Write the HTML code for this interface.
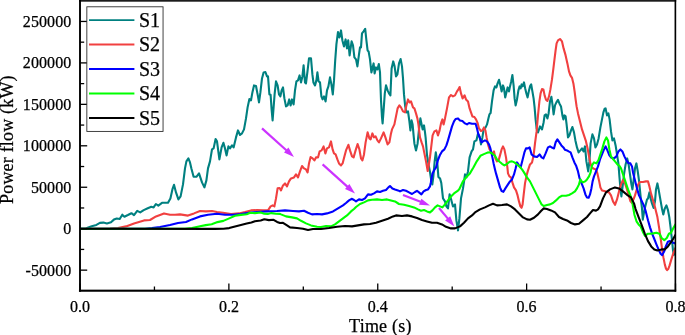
<!DOCTYPE html>
<html><head><meta charset="utf-8"><title>Power flow</title>
<style>
html,body{margin:0;padding:0;background:#fff;}
body{width:685px;height:335px;overflow:hidden;}
svg{display:block;}
text{font-variant-ligatures:none;stroke:#000;stroke-width:0.25px;font-family:"Liberation Serif",serif;fill:#000;}
.c{fill:none;stroke-width:2.1;stroke-linejoin:round;stroke-linecap:round;}
.ax{stroke:#000;stroke-width:2;fill:none;stroke-linecap:square;}
.tk{stroke:#000;stroke-width:1.3;}
.ar{stroke:#cc33ff;stroke-width:2.2;fill:none;}
.ah{fill:#cc33ff;stroke:none;}
</style></head><body>
<svg width="685" height="335" viewBox="0 0 685 335">
<rect x="0" y="0" width="685" height="335" fill="#fff"/>
<defs><clipPath id="cp"><rect x="80" y="0" width="595.5" height="290.3"/></clipPath></defs>

<g clip-path="url(#cp)"><g transform="translate(0,0.4)">
<polyline class="c" stroke="#008080" points="80.0,228.4 86.0,228.2 87.6,227.3 91.7,225.8 96.4,224.5 99.9,222.5 103.4,222.2 106.9,223.0 111.0,221.8 113.9,219.2 116.8,218.1 119.7,218.6 122.3,214.3 124.4,216.3 127.9,214.6 131.4,212.8 134.0,214.8 137.2,210.5 140.2,212.0 143.7,209.7 147.2,208.1 151.3,206.4 153.6,207.0 155.9,203.6 158.3,205.2 162.0,202.4 165.0,202.4 168.0,202.4 170.4,198.0 172.4,189.0 174.0,184.4 176.0,192.0 178.4,199.0 180.6,196.0 183.0,184.0 185.0,168.0 186.4,161.0 188.4,158.0 190.0,162.0 191.4,168.0 193.6,176.4 196.4,176.4 199.0,173.0 202.0,182.0 204.4,187.0 206.4,180.0 208.0,168.0 210.0,161.0 212.0,149.0 213.6,148.0 215.6,138.6 217.0,141.0 219.4,159.0 221.6,147.0 223.4,142.4 225.0,148.0 226.6,155.0 228.4,146.0 230.0,148.0 232.0,145.0 233.6,147.0 236.0,137.0 238.0,130.0 240.0,134.6 242.0,133.0 244.0,129.0 246.0,118.0 247.6,107.0 249.4,98.6 251.0,100.0 252.4,92.0 254.0,85.0 256.0,85.6 257.6,94.0 259.0,102.0 260.4,92.0 262.0,78.0 263.6,72.0 265.4,71.6 267.0,76.0 268.0,76.0 269.4,94.0 270.6,94.4 271.6,109.0 272.6,120.0 273.6,107.0 274.6,94.0 276.0,81.0 277.6,85.0 279.0,94.0 280.4,96.0 281.6,90.0 283.0,87.0 284.4,98.0 286.0,106.0 287.6,105.0 289.2,99.0 290.6,105.0 292.0,99.0 293.6,104.0 295.0,90.0 296.4,81.0 298.0,80.0 299.6,75.0 301.0,82.0 302.4,76.0 303.6,65.0 305.0,82.0 306.0,83.0 307.6,70.0 309.0,58.0 311.0,58.0 312.4,74.0 313.4,82.0 315.0,85.0 316.4,80.0 317.4,72.0 318.6,81.0 320.0,82.0 321.4,96.0 322.6,99.0 324.0,96.0 325.6,101.0 327.0,90.0 328.4,86.0 330.0,77.0 331.4,84.0 332.8,94.0 334.0,80.0 335.2,60.0 336.4,44.0 338.0,31.6 339.4,37.0 341.0,30.0 342.4,40.0 344.0,46.0 345.6,39.0 347.0,48.0 348.2,40.0 349.6,55.0 351.6,41.0 353.0,45.0 354.4,57.0 356.0,59.0 357.4,66.0 359.0,54.0 360.0,47.0 361.0,47.0 362.0,33.0 363.6,31.0 365.2,28.4 366.4,40.0 367.6,50.0 368.6,51.0 370.0,59.0 371.4,72.0 372.6,67.0 373.6,63.0 374.6,73.0 376.0,67.0 377.4,69.0 378.8,63.6 380.0,72.0 381.0,100.0 382.0,117.0 382.6,123.0 383.6,110.0 384.8,93.0 386.0,85.0 387.6,90.0 389.0,93.0 390.4,95.0 391.6,68.0 393.2,61.0 394.6,66.0 396.0,76.0 397.4,74.0 399.0,63.0 400.6,58.6 402.0,66.0 403.0,78.0 404.0,94.0 405.2,106.0 406.4,112.0 408.0,111.0 409.4,121.0 410.4,130.0 411.6,120.0 412.6,124.0 413.6,135.0 414.4,143.0 416.0,150.0 417.6,143.0 419.0,129.0 420.4,118.0 421.6,124.0 422.6,129.0 424.0,125.0 425.0,132.0 425.6,137.0 427.0,154.6 428.6,164.6 430.0,171.6 431.2,179.6 432.3,184.1 433.4,175.6 434.6,161.6 435.8,151.9 437.2,161.3 438.4,176.5 440.1,178.2 441.3,182.6 443.0,198.0 445.0,201.0 446.4,206.0 448.0,208.0 449.6,194.0 451.4,200.0 453.0,206.0 455.0,204.0 456.4,220.0 458.0,230.0 459.4,218.0 461.0,198.0 463.0,188.0 464.2,180.0 465.0,174.0 466.4,177.0 468.0,171.0 469.6,157.0 471.6,151.0 473.0,149.0 474.4,141.0 476.4,140.0 478.0,133.0 479.6,136.0 481.0,144.0 482.4,137.0 483.6,129.0 485.6,127.0 487.0,124.0 488.4,118.0 489.4,114.0 490.6,112.6 492.0,101.0 493.6,90.0 495.0,86.0 496.4,87.0 497.6,83.0 499.0,79.4 500.4,85.0 501.6,91.0 503.0,85.0 504.0,88.0 505.2,97.0 506.4,92.0 507.6,87.0 509.0,91.0 510.0,86.0 511.2,81.0 512.4,74.6 513.6,85.0 514.6,98.0 515.6,105.0 517.0,99.0 518.4,90.0 519.6,86.0 520.6,88.0 521.6,84.0 522.6,86.0 524.0,82.0 525.2,88.0 526.4,93.0 527.6,97.0 529.0,90.0 530.0,86.0 531.2,84.0 532.4,91.0 533.6,98.0 534.6,107.0 535.6,119.0 536.6,128.0 538.0,132.0 540.0,126.0 542.0,129.0 543.6,122.0 544.6,115.0 546.0,114.0 547.4,118.0 548.6,113.0 550.0,101.0 551.4,96.4 552.6,105.0 553.6,114.0 555.0,105.0 556.4,102.0 558.0,99.4 559.4,103.0 561.0,106.0 562.4,115.0 563.4,119.0 564.4,115.0 565.6,116.0 566.6,124.0 568.0,137.0 569.4,135.0 571.0,130.0 572.4,126.6 574.0,132.0 575.4,140.0 577.0,147.0 578.6,152.0 580.4,150.0 582.0,148.0 583.6,151.0 585.0,146.0 586.4,161.0 588.2,171.0 589.4,161.0 590.6,143.0 592.4,134.0 594.0,138.0 595.4,147.0 597.0,144.0 598.6,138.0 600.4,127.0 602.0,119.0 603.4,112.0 604.6,108.4 605.6,108.0 607.0,115.0 608.4,113.0 609.6,119.0 611.0,131.0 612.4,140.0 614.0,138.0 615.6,145.0 617.0,154.0 618.4,163.0 619.4,176.0 620.6,190.0 621.4,196.0 622.6,186.0 624.0,174.0 625.6,164.0 627.2,158.0 628.6,164.0 630.0,174.0 631.4,184.0 632.4,189.0 633.6,180.0 635.0,168.0 636.4,163.0 637.6,170.0 639.0,180.0 640.0,190.0 641.0,200.0 642.0,208.0 642.8,219.2 644.0,212.0 645.5,205.0 647.0,199.0 648.0,198.0 649.4,192.0 650.6,198.0 652.0,203.0 653.6,207.6 655.0,201.0 656.0,189.0 657.4,183.0 658.6,189.0 660.0,197.0 661.4,205.0 662.0,208.4 663.3,214.0 664.7,208.4 666.4,205.0 667.9,209.4 669.3,216.7 670.6,227.2 672.0,239.7 673.0,250.0 673.8,254.5 674.6,252.0 675.4,248.0"/>
<polyline class="c" stroke="#f14040" points="80.0,228.4 110.0,228.2 118.0,227.6 126.0,226.0 134.0,223.0 144.0,220.0 150.0,219.6 156.0,216.0 164.0,213.0 170.0,214.4 175.0,214.4 180.0,214.0 188.0,215.2 194.0,213.0 200.0,210.6 206.0,211.0 212.0,210.6 217.0,211.6 223.0,212.4 231.0,213.6 239.0,213.0 245.0,211.6 251.0,210.0 257.0,209.6 263.0,210.0 268.0,210.0 270.6,206.0 272.6,205.0 274.4,206.0 276.0,198.0 277.6,188.0 279.6,187.6 281.0,190.0 283.0,185.0 285.0,183.0 287.0,186.0 289.0,181.0 291.0,178.0 294.0,177.0 296.0,174.0 298.0,177.0 300.0,171.0 302.0,165.6 304.0,168.0 306.0,169.0 307.6,172.0 309.0,163.0 310.6,156.6 312.6,158.0 314.4,160.0 316.0,157.0 318.0,157.0 319.6,151.0 321.6,150.0 323.6,146.0 325.4,153.0 327.0,148.0 329.0,147.0 331.0,141.0 332.6,149.0 334.0,153.0 335.6,154.0 337.4,159.0 339.0,163.0 341.0,165.0 342.6,163.0 344.4,156.0 346.0,150.0 348.4,144.4 350.0,150.0 352.0,156.0 353.6,157.0 355.6,150.0 357.6,143.6 359.4,149.0 361.0,158.0 362.4,160.0 364.0,154.0 365.6,142.0 367.6,132.0 369.4,138.0 370.6,139.0 372.4,133.0 374.0,137.0 375.6,136.0 377.4,140.0 379.0,142.0 381.0,138.0 383.6,132.0 385.4,137.0 387.6,144.0 389.4,142.0 391.0,133.0 392.0,129.0 394.4,124.0 396.0,116.0 397.6,108.0 399.4,105.0 401.0,107.0 403.0,111.0 405.0,112.0 406.4,105.0 408.0,99.0 409.6,102.0 411.0,101.0 413.0,107.0 414.4,108.0 416.0,113.0 417.4,118.0 418.4,124.0 420.0,137.0 421.6,142.0 423.0,146.0 424.4,153.0 426.0,161.0 427.0,166.6 427.7,170.6 428.6,165.6 430.0,156.6 431.4,145.0 432.6,135.0 434.4,131.0 436.4,130.0 438.0,135.0 439.6,130.0 441.0,123.0 442.4,119.0 443.6,124.0 445.0,118.0 447.0,108.0 449.0,97.0 451.0,94.6 453.0,96.0 455.0,95.0 457.0,91.0 458.4,89.0 459.6,86.6 461.0,93.0 462.6,98.0 464.6,95.0 466.0,99.0 468.0,101.0 469.6,108.0 471.0,112.0 472.4,116.0 474.4,116.6 476.0,119.0 477.6,122.6 479.0,128.0 481.0,130.6 482.4,130.0 484.0,127.0 485.4,130.0 486.6,137.0 488.0,144.0 489.6,149.0 491.0,151.0 492.6,154.0 494.0,151.0 495.4,158.0 497.0,161.0 498.6,160.0 500.0,155.0 501.6,149.0 503.0,146.0 504.4,149.0 506.0,157.0 507.4,167.0 508.0,173.0 509.4,176.0 511.0,177.0 512.4,182.0 514.0,187.0 516.0,190.0 517.6,195.0 519.0,201.0 520.4,206.0 521.6,207.4 522.6,204.0 523.6,195.0 525.0,183.0 526.6,175.0 528.0,170.0 530.0,164.0 532.0,162.0 533.6,155.0 535.0,143.0 536.6,131.0 538.0,115.0 539.4,101.0 540.6,93.0 542.0,88.6 543.4,89.0 544.6,95.0 546.0,99.4 547.4,100.6 549.0,96.0 550.4,89.0 552.0,79.0 553.4,68.0 554.6,58.0 555.6,50.0 556.6,43.0 558.0,40.0 560.0,38.6 562.0,41.0 563.6,48.0 565.6,55.0 567.4,63.0 569.0,71.0 570.4,75.0 572.0,77.4 573.4,83.0 574.6,91.0 575.6,99.0 576.6,106.0 578.0,113.0 580.0,121.0 582.0,129.0 584.0,135.0 586.0,141.0 587.6,148.0 589.0,156.0 590.4,163.0 592.0,167.4 594.0,168.4 596.0,169.0 597.4,173.0 599.0,180.0 600.4,187.0 602.0,190.0 604.4,190.6 607.0,191.6 609.0,192.0 611.0,195.0 613.0,201.0 615.0,204.4 617.0,199.0 619.0,191.0 621.0,184.0 623.0,179.6 625.0,183.0 627.0,189.0 629.0,196.0 630.5,201.0 631.8,202.4 633.5,199.0 635.0,195.0 636.5,190.0 638.0,184.6 639.5,181.8 641.0,181.6 643.0,181.6 646.0,181.0 648.0,181.0 649.4,186.0 651.0,193.0 653.0,200.0 655.3,208.0 657.4,216.7 659.1,227.2 660.6,237.6 662.0,248.0 663.5,257.5 664.8,264.0 666.0,268.2 667.1,269.7 668.3,268.6 669.6,265.0 671.2,259.5 673.1,253.5 675.4,248.0"/>
<polyline class="c" stroke="#0000ff" points="80.0,228.4 145.0,228.3 152.0,227.6 160.0,226.6 170.0,224.6 178.0,222.6 186.0,221.6 192.0,219.0 200.0,216.0 208.0,214.4 217.0,213.4 225.0,214.4 233.0,214.4 241.0,213.6 249.0,212.4 257.0,211.6 267.0,211.0 277.0,210.6 285.0,210.0 293.0,210.6 299.0,211.0 304.0,210.4 308.0,212.4 312.0,214.0 317.0,213.6 322.0,214.0 327.0,213.0 333.0,211.0 338.0,208.0 343.0,205.0 346.0,202.6 349.0,200.0 352.0,198.4 354.0,199.6 356.0,201.0 359.0,199.0 362.0,199.6 365.0,198.0 368.0,194.0 371.0,194.4 374.0,193.0 377.0,191.0 380.0,191.6 383.0,190.4 386.0,189.6 388.4,187.0 390.0,185.6 392.4,188.0 395.0,189.0 398.0,190.0 400.0,191.0 403.0,189.6 406.0,190.4 409.0,192.0 412.0,193.6 415.0,191.6 417.0,190.4 419.0,192.0 421.4,194.0 423.6,191.0 426.0,189.6 428.0,189.0 430.0,186.0 430.8,182.3 432.5,173.0 434.3,169.6 436.0,167.1 437.8,160.1 440.1,154.3 442.0,151.0 444.4,149.0 446.4,145.0 448.0,140.0 450.0,133.0 452.0,126.0 454.0,121.0 455.6,118.6 458.0,118.0 460.0,120.0 462.4,120.6 465.0,123.0 467.0,124.0 469.0,122.6 472.0,123.4 475.6,123.4 477.0,128.0 478.4,134.0 480.0,138.0 481.6,142.0 483.0,141.0 485.0,140.0 487.0,141.0 489.0,144.0 490.4,148.0 492.0,155.0 493.6,163.0 495.0,169.0 496.0,173.0 498.0,180.0 500.0,187.0 501.6,190.6 503.4,191.4 505.4,188.0 508.0,184.0 510.0,181.0 512.0,179.0 514.0,174.0 515.6,168.0 517.0,162.0 519.0,165.0 520.6,167.0 522.4,160.0 524.4,152.0 526.0,148.0 528.0,148.0 529.6,147.0 531.6,154.0 534.0,156.0 537.0,156.6 539.6,154.0 541.6,157.0 543.4,158.0 545.6,153.0 548.0,147.0 550.0,146.0 552.4,147.4 554.0,148.0 555.6,142.0 557.4,139.0 559.4,142.0 561.4,145.0 563.4,147.0 565.0,149.4 567.0,150.0 568.6,151.0 570.6,152.0 572.4,157.0 574.4,162.0 576.0,165.0 577.0,168.0 578.0,171.0 579.6,178.0 581.6,183.0 583.6,188.0 585.4,194.0 587.0,197.0 588.6,197.4 590.0,194.0 591.4,188.0 592.6,181.0 594.0,176.0 596.0,171.0 598.0,166.0 600.0,159.0 602.0,154.0 604.0,149.0 605.6,146.0 607.4,150.0 609.4,155.0 611.4,157.4 614.0,158.0 616.4,156.0 618.4,151.0 620.4,149.0 622.4,151.0 624.4,156.0 626.4,160.0 628.4,162.6 630.4,163.0 632.0,166.0 633.0,172.0 635.0,180.0 637.0,188.0 639.0,195.0 641.0,199.0 643.9,205.2 645.9,211.5 648.0,219.8 650.1,227.2 652.2,233.4 654.3,238.6 656.4,243.9 658.5,249.0 660.6,253.3 662.2,254.7 664.1,251.2 665.8,246.0 667.9,241.4 670.0,240.7 672.0,241.8 675.4,243.0"/>
<polyline class="c" stroke="#00ff00" points="80.0,228.4 185.0,228.3 192.0,227.6 200.0,225.9 205.8,224.7 211.7,223.8 217.5,221.7 223.4,220.5 229.2,218.0 235.0,215.4 240.9,214.5 246.7,213.9 250.2,212.4 254.9,212.7 260.7,212.1 264.3,213.3 267.8,213.5 271.3,212.7 275.9,213.3 280.0,213.5 281.0,214.0 286.0,216.0 292.0,217.0 297.0,218.0 301.0,220.4 306.0,223.0 311.0,225.0 317.0,226.4 321.0,226.6 326.0,225.6 331.0,226.0 335.0,224.0 339.0,221.0 343.0,218.0 347.0,215.0 351.0,211.0 354.0,208.6 356.0,206.6 360.0,203.6 364.0,202.0 368.0,200.0 372.0,199.4 377.0,199.0 382.0,199.6 387.0,199.0 391.0,200.0 395.0,201.0 399.0,203.6 404.0,204.4 409.0,205.6 414.0,207.0 418.0,209.0 421.0,210.4 424.0,209.6 427.0,211.0 430.0,212.0 432.4,210.0 435.0,207.0 437.6,205.0 440.0,206.0 442.4,207.0 445.0,204.0 448.0,200.0 451.0,196.0 454.0,193.0 458.0,190.2 459.4,188.6 462.9,181.1 466.4,176.5 469.9,173.0 473.4,167.1 476.9,160.7 480.4,155.4 483.9,153.7 487.4,152.2 489.8,151.9 492.1,153.1 495.0,155.4 497.0,159.0 499.6,161.4 502.0,163.4 504.4,165.0 507.0,163.6 509.6,161.4 512.0,161.0 514.4,162.0 517.0,164.0 520.0,166.6 522.0,169.0 524.0,172.0 527.0,177.0 530.0,181.0 533.0,187.0 536.0,193.0 539.0,199.0 541.6,204.0 543.6,205.6 547.0,204.6 550.0,204.0 553.0,202.6 556.0,200.0 559.0,197.0 562.0,195.4 566.0,195.4 569.0,194.6 572.0,193.0 575.0,191.0 577.0,188.0 579.0,184.0 580.4,179.0 581.6,181.0 583.0,182.0 585.0,181.0 587.0,179.0 589.0,176.0 590.6,172.0 592.0,165.0 594.0,162.0 596.4,163.0 598.4,160.0 600.4,154.0 602.4,148.0 604.4,141.0 606.4,137.0 608.0,140.0 609.4,149.0 611.0,156.0 613.0,158.6 615.0,161.0 617.4,164.0 619.4,165.4 621.0,168.0 622.0,171.0 624.0,177.0 626.0,183.0 628.0,189.0 630.0,194.0 632.0,200.0 633.0,206.3 634.5,214.6 636.5,220.9 638.6,224.0 640.7,226.1 642.8,231.3 644.9,235.5 647.6,233.4 650.1,233.4 653.3,233.0 656.4,232.4 659.5,233.4 661.6,237.6 664.3,239.7 666.8,237.6 668.9,233.4 671.0,232.4 673.1,228.2 675.4,224.0"/>
<polyline class="c" stroke="#000000" points="80.0,228.4 215.0,228.5 223.4,228.4 229.2,227.7 235.0,226.1 240.9,224.7 246.7,223.2 251.4,222.1 254.9,220.9 260.7,220.1 264.3,218.9 268.9,219.7 273.6,219.4 277.1,221.5 280.0,222.6 283.0,222.4 287.0,225.0 290.0,227.0 297.0,227.6 303.0,228.4 308.0,229.6 313.0,228.6 321.0,228.6 329.0,227.6 337.0,226.4 345.0,225.6 352.0,226.0 358.0,225.0 364.0,224.0 370.0,223.6 376.0,222.4 382.0,220.4 388.0,218.4 393.0,216.0 396.0,215.0 402.0,215.6 407.0,215.0 412.0,216.0 417.0,217.6 422.0,219.6 427.0,221.0 432.0,222.4 437.0,222.4 442.0,224.0 446.0,226.4 451.0,228.0 455.0,228.0 460.0,226.0 464.0,222.4 468.0,218.0 472.0,215.0 475.0,212.0 480.0,209.0 485.0,207.0 489.0,205.0 493.0,203.4 497.0,205.0 502.0,204.6 507.0,204.0 511.0,206.0 515.0,209.0 519.0,213.0 523.0,217.0 527.0,219.0 530.0,219.4 534.0,217.4 538.0,214.0 541.0,210.6 543.6,208.0 547.0,208.6 551.0,210.0 555.0,212.0 559.0,216.6 563.0,218.6 567.0,220.0 571.0,222.6 575.0,224.0 579.0,223.4 583.0,220.0 587.0,216.6 590.0,213.0 593.0,209.6 596.0,210.2 598.0,209.0 600.0,206.0 603.0,198.0 606.0,192.0 610.0,189.0 615.0,187.0 619.0,188.0 623.0,191.0 627.0,194.4 631.0,197.0 634.0,203.0 635.5,208.4 638.6,216.7 641.8,225.0 644.9,233.4 648.0,240.7 651.2,246.0 654.3,249.0 657.4,250.0 661.6,249.0 664.7,249.0 667.9,246.0 671.0,241.8 673.1,238.6 675.4,234.5"/>
</g></g>
<line class="ar" x1="262.0" y1="128.4" x2="286.9" y2="150.7"/><polygon class="ah" points="294.0,157.0 284.0,152.5 288.4,147.5"/>
<line class="ar" x1="322.6" y1="164.4" x2="347.9" y2="187.1"/><polygon class="ah" points="355.0,193.4 345.0,188.9 349.4,183.9"/>
<line class="ar" x1="403.0" y1="195.0" x2="421.2" y2="202.1"/><polygon class="ah" points="430.0,205.6 419.0,204.8 421.4,198.7"/>
<line class="ar" x1="439.0" y1="208.0" x2="448.3" y2="219.1"/><polygon class="ah" points="454.4,226.4 445.1,220.5 450.2,216.2"/>
<rect x="79" y="0" width="597.2" height="1.7" fill="#1c1c1c"/>
<rect x="79.05" y="0" width="1.9" height="291.75" fill="#000"/>
<rect x="78.95" y="289.65" width="597.25" height="2.1" fill="#000"/>
<rect x="674.55" y="0" width="1.65" height="291.75" fill="#000"/>
<line class="tk" x1="80.0" y1="270.15" x2="87.2" y2="270.15"/>
<text x="71.3" y="275.5" font-size="16" letter-spacing="0.08" text-anchor="end">-50000</text>
<line class="tk" x1="80.0" y1="249.42" x2="84.2" y2="249.42"/>
<line class="tk" x1="80.0" y1="228.70" x2="87.2" y2="228.70"/>
<text x="71.3" y="234.1" font-size="16" letter-spacing="0.08" text-anchor="end">0</text>
<line class="tk" x1="80.0" y1="207.97" x2="84.2" y2="207.97"/>
<line class="tk" x1="80.0" y1="187.25" x2="87.2" y2="187.25"/>
<text x="71.3" y="192.7" font-size="16" letter-spacing="0.08" text-anchor="end">50000</text>
<line class="tk" x1="80.0" y1="166.52" x2="84.2" y2="166.52"/>
<line class="tk" x1="80.0" y1="145.80" x2="87.2" y2="145.80"/>
<text x="71.3" y="151.2" font-size="16" letter-spacing="0.08" text-anchor="end">100000</text>
<line class="tk" x1="80.0" y1="125.07" x2="84.2" y2="125.07"/>
<line class="tk" x1="80.0" y1="104.35" x2="87.2" y2="104.35"/>
<text x="71.3" y="109.7" font-size="16" letter-spacing="0.08" text-anchor="end">150000</text>
<line class="tk" x1="80.0" y1="83.62" x2="84.2" y2="83.62"/>
<line class="tk" x1="80.0" y1="62.90" x2="87.2" y2="62.90"/>
<text x="71.3" y="68.3" font-size="16" letter-spacing="0.08" text-anchor="end">200000</text>
<line class="tk" x1="80.0" y1="42.17" x2="84.2" y2="42.17"/>
<line class="tk" x1="80.0" y1="21.45" x2="87.2" y2="21.45"/>
<text x="71.3" y="26.8" font-size="16" letter-spacing="0.08" text-anchor="end">250000</text>
<line class="tk" x1="80.00" y1="290.7" x2="80.00" y2="283.5"/>
<text x="80.0" y="311.9" font-size="16" text-anchor="middle">0.0</text>
<line class="tk" x1="154.44" y1="290.7" x2="154.44" y2="286.5"/>
<line class="tk" x1="228.88" y1="290.7" x2="228.88" y2="283.5"/>
<text x="228.9" y="311.9" font-size="16" text-anchor="middle">0.2</text>
<line class="tk" x1="303.31" y1="290.7" x2="303.31" y2="286.5"/>
<line class="tk" x1="377.75" y1="290.7" x2="377.75" y2="283.5"/>
<text x="377.8" y="311.9" font-size="16" text-anchor="middle">0.4</text>
<line class="tk" x1="452.19" y1="290.7" x2="452.19" y2="286.5"/>
<line class="tk" x1="526.62" y1="290.7" x2="526.62" y2="283.5"/>
<text x="526.6" y="311.9" font-size="16" text-anchor="middle">0.6</text>
<line class="tk" x1="601.06" y1="290.7" x2="601.06" y2="286.5"/>
<line class="tk" x1="675.50" y1="290.7" x2="675.50" y2="283.5"/>
<text x="675.5" y="311.9" font-size="16" text-anchor="middle">0.8</text>
<text x="380.4" y="332.2" font-size="18" letter-spacing="0.22" text-anchor="middle">Time (s)</text>
<text transform="translate(12.6,139.6) rotate(-90)" font-size="18" letter-spacing="0.18" text-anchor="middle">Power flow (kW)</text>
<rect x="86.85" y="6.8" width="76.2" height="124.6" fill="#fff" stroke="#222" stroke-width="0.85"/>
<line x1="89" y1="20.1" x2="134.4" y2="20.1" stroke="#008080" stroke-width="1.9"/>
<text x="139" y="26.6" font-size="20">S1</text>
<line x1="89" y1="44.5" x2="134.4" y2="44.5" stroke="#f14040" stroke-width="1.9"/>
<text x="139" y="51.1" font-size="20">S2</text>
<line x1="89" y1="69.0" x2="134.4" y2="69.0" stroke="#0000ff" stroke-width="1.9"/>
<text x="139" y="75.6" font-size="20">S3</text>
<line x1="89" y1="93.5" x2="134.4" y2="93.5" stroke="#00ff00" stroke-width="1.9"/>
<text x="139" y="100.1" font-size="20">S4</text>
<line x1="89" y1="118.0" x2="134.4" y2="118.0" stroke="#000000" stroke-width="1.9"/>
<text x="139" y="124.6" font-size="20">S5</text>
</svg></body></html>
